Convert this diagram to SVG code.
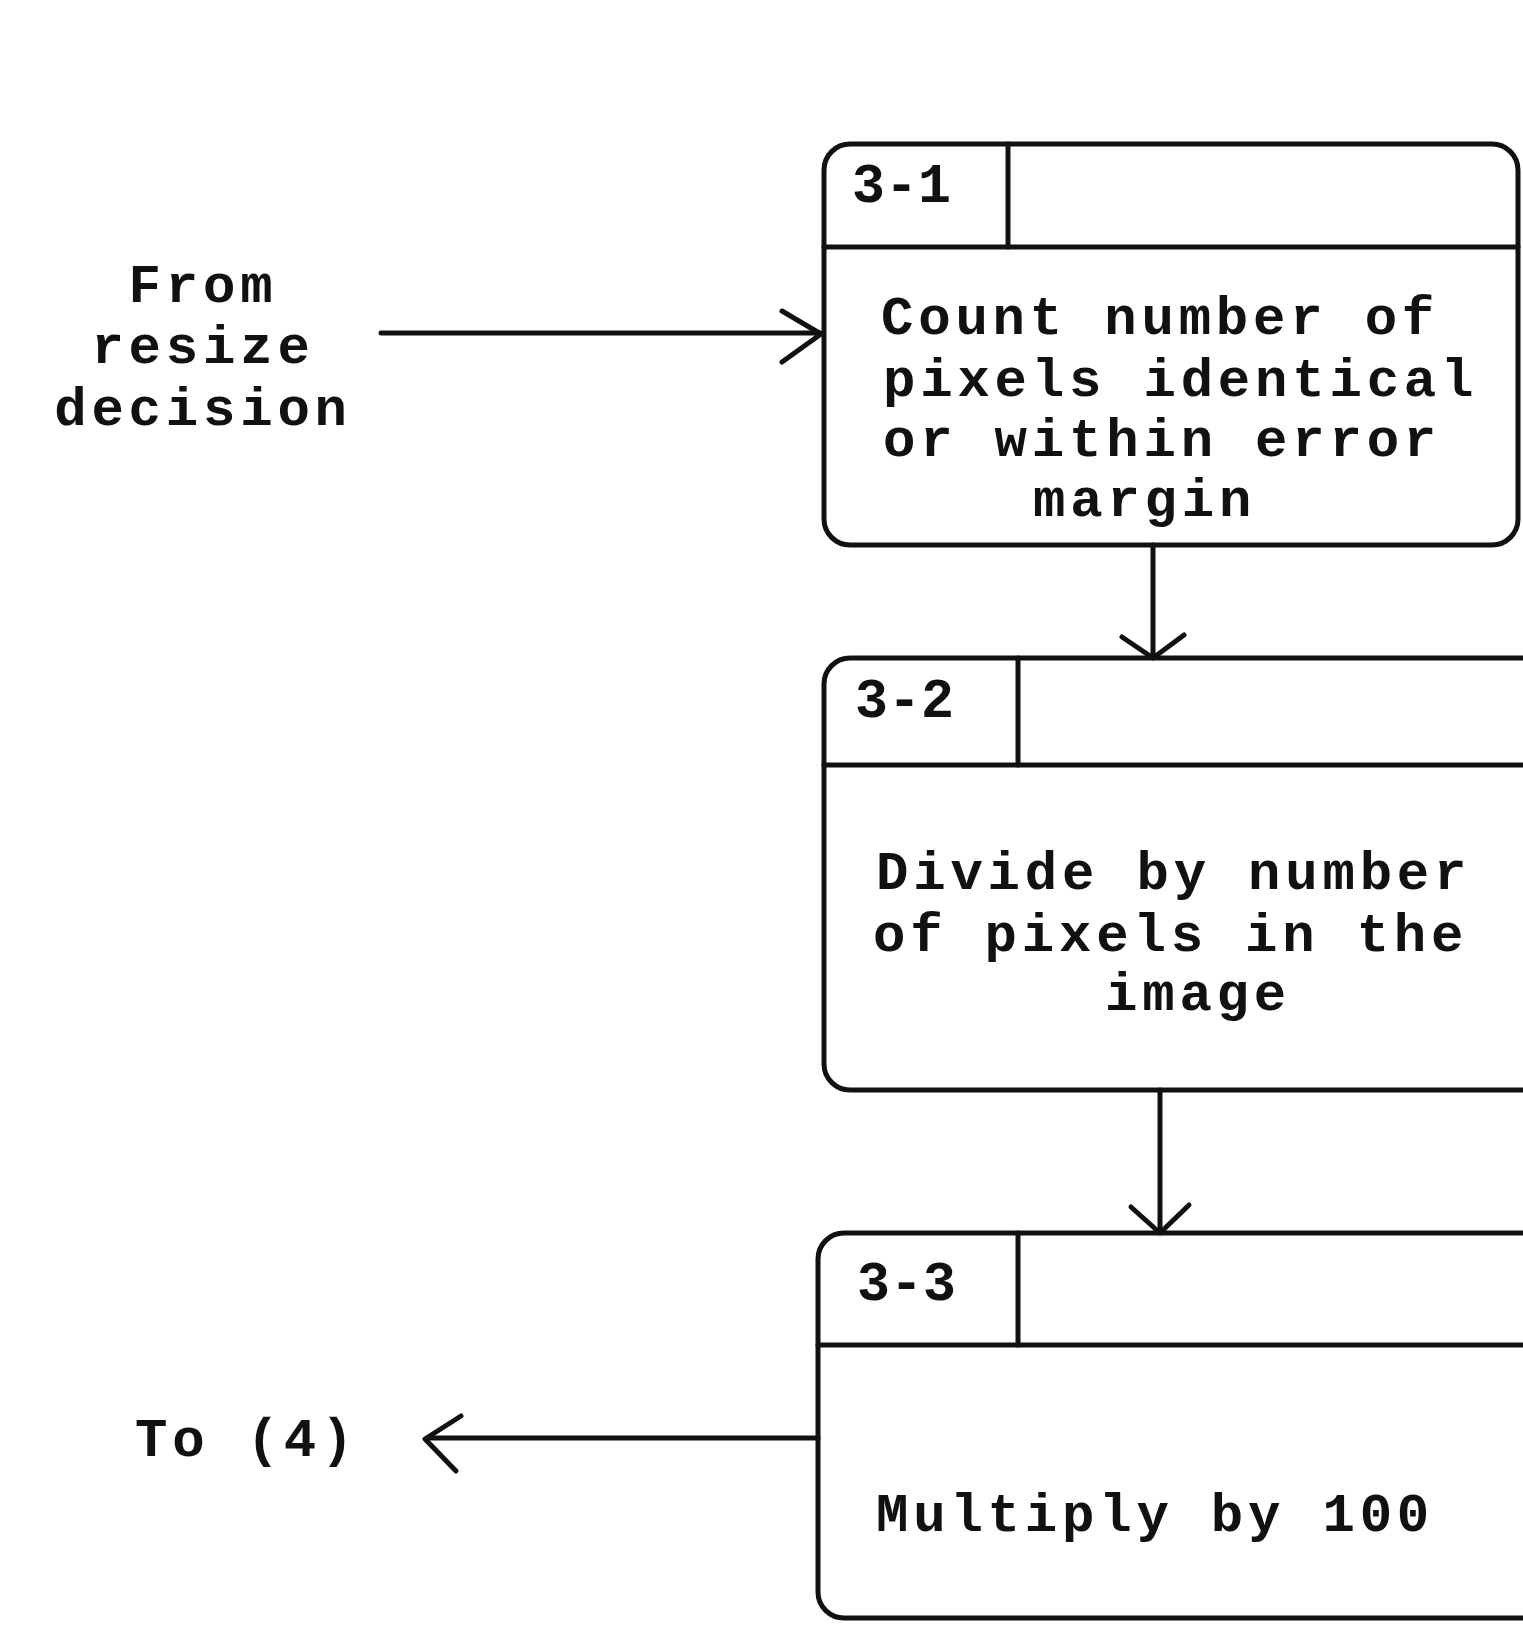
<svg xmlns="http://www.w3.org/2000/svg" width="1523" height="1625" viewBox="0 0 1523 1625">
<style>
.box{fill:none;stroke:#111;stroke-width:5;stroke-linejoin:round}
.ln{fill:none;stroke:#111;stroke-width:5;stroke-linecap:round;stroke-linejoin:round}
.t{font-family:"Liberation Mono","DejaVu Sans Mono",monospace;font-size:54px;letter-spacing:4.8px;font-weight:bold;fill:#111}
.id{font-family:"Liberation Mono","DejaVu Sans Mono",monospace;font-size:55px;font-weight:bold;fill:#111}
</style>
<rect width="1523" height="1625" fill="#fff"/>
<g id="node-3-1">
<rect class="box" x="824" y="144" width="694" height="401" rx="26"/>
<line class="ln" x1="824" y1="247" x2="1518" y2="247"/>
<line class="ln" x1="1008" y1="144" x2="1008" y2="247"/>
<text class="id" x="852" y="202">3-1</text>
<text class="t" x="881" y="334">Count number of</text>
<text class="t" x="883" y="396">pixels identical</text>
<text class="t" x="883" y="456">or within error</text>
<text class="t" x="1033" y="516">margin</text>
</g>
<g id="node-3-2">
<rect class="box" x="824" y="658" width="740" height="432" rx="26"/>
<line class="ln" x1="824" y1="765" x2="1523" y2="765"/>
<line class="ln" x1="1018" y1="658" x2="1018" y2="765"/>
<text class="id" x="855" y="717">3-2</text>
<text class="t" x="876" y="889">Divide by number</text>
<text class="t" x="873" y="951">of pixels in the</text>
<text class="t" x="1105" y="1010">image</text>
</g>
<g id="node-3-3">
<rect class="box" x="818" y="1233" width="746" height="385" rx="26"/>
<line class="ln" x1="818" y1="1345" x2="1523" y2="1345"/>
<line class="ln" x1="1018" y1="1233" x2="1018" y2="1345"/>
<text class="id" x="857" y="1300">3-3</text>
<text class="t" x="876" y="1531">Multiply by 100</text>
</g>
<g id="label-from">
<text class="t" x="203" y="302" text-anchor="middle">From</text>
<text class="t" x="203" y="363" text-anchor="middle">resize</text>
<text class="t" x="203" y="425" text-anchor="middle">decision</text>
</g>
<g id="label-to">
<text class="t" x="135" y="1456">To (4)</text>
</g>
<g id="connectors">
<line class="ln" x1="381" y1="333" x2="820" y2="333"/>
<polyline class="ln" points="782,311 821,334 782,362"/>
<line class="ln" x1="1153" y1="545" x2="1153" y2="656"/>
<polyline class="ln" points="1122,637 1153,658 1184,635"/>
<line class="ln" x1="1160" y1="1090" x2="1160" y2="1231"/>
<polyline class="ln" points="1131,1207 1160,1233 1189,1205"/>
<line class="ln" x1="818" y1="1438" x2="427" y2="1438"/>
<polyline class="ln" points="461,1416 425,1439 456,1471"/>
</g>
</svg>
